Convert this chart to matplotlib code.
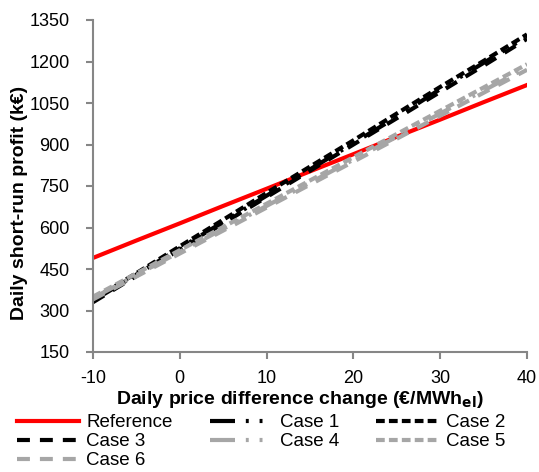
import matplotlib.pyplot as plt

plt.rcParams['font.family'] = ['Liberation Sans', 'DejaVu Sans']
plt.rcParams['axes.unicode_minus'] = False

# price difference change (€/MWh_el)
x = [-10, -5, 0, 5, 10, 15, 20, 25, 30, 35, 40]

# daily short-run profit (k€)
reference = [490, 553, 615, 678, 740, 803, 865, 928, 990, 1053, 1115]
case1 = [335, 430, 525, 620, 715, 810, 905, 1000, 1100, 1195, 1290]
case2 = [340, 435, 532, 628, 725, 820, 915, 1012, 1108, 1202, 1298]
case3 = [330, 425, 520, 615, 710, 805, 900, 995, 1090, 1185, 1282]
case4 = [345, 428, 512, 595, 678, 762, 845, 928, 1012, 1095, 1178]
case5 = [350, 434, 518, 602, 686, 770, 854, 938, 1022, 1106, 1190]
case6 = [340, 423, 506, 589, 672, 755, 838, 921, 1004, 1087, 1170]

labels = ["Reference", "Case 1", "Case 2", "Case 3", "Case 4", "Case 5", "Case 6"]

grey = "#A6A6A6"
axis_col = "#868686"

fig = plt.figure(figsize=(5.39, 4.72), dpi=100)
ax = fig.add_axes([93/539, 1 - 352/472, (527-93)/539, (352-20)/472])

lw = 3
dashdotdot = (6, 2.6, 0.7, 2.6, 0.7, 2.6)
shortdash = (2.1, 1.0)
longdash = (3.1, 2.4)
h = []
h += ax.plot(x, reference, color="red", lw=lw, label=labels[0])
h += ax.plot(x, case1, color="black", lw=lw, dashes=dashdotdot, label=labels[1])
h += ax.plot(x, case2, color="black", lw=lw, dashes=shortdash, label=labels[2])
h += ax.plot(x, case3, color="black", lw=lw, dashes=longdash, label=labels[3])
h += ax.plot(x, case4, color=grey, lw=lw, dashes=dashdotdot, label=labels[4])
h += ax.plot(x, case5, color=grey, lw=lw, dashes=shortdash, label=labels[5])
h += ax.plot(x, case6, color=grey, lw=lw, dashes=longdash, label=labels[6])

ax.set_xlim(-10, 40)
ax.set_ylim(150, 1350)
ax.set_xticks(range(-10, 41, 10))
ax.set_yticks(range(150, 1351, 150))

for s in ["top", "right"]:
    ax.spines[s].set_visible(False)
for s in ["left", "bottom"]:
    ax.spines[s].set_color(axis_col)
    ax.spines[s].set_linewidth(1.5)
ax.tick_params(colors=axis_col, labelcolor="black", labelsize=13, length=5, width=1.5)
ax.tick_params(axis="y", pad=12)
ax.tick_params(axis="x", pad=8)

ax.set_xlabel("Daily price difference change (€/MWh$_{\\mathbf{el}}$)",
              fontsize=14, fontweight="bold")
ax.set_ylabel("Daily short-run profit (k€)", fontsize=14, fontweight="bold")
ax.xaxis.set_label_coords(0.477, -0.112)
ax.yaxis.set_label_coords(-0.15, 0.449)

# legend is filled row by row in the original
order = [0, 3, 6, 1, 4, 2, 5]
fig.legend([h[i] for i in order], [labels[i] for i in order],
           loc="upper left", bbox_to_anchor=(17/539, 1 - 414/472), ncol=3,
           frameon=False, fontsize=13.5, handlelength=3.3, handletextpad=0.4,
           columnspacing=2.0, labelspacing=0.1, borderaxespad=0, borderpad=0)

fig.savefig("out.png", dpi=100)
